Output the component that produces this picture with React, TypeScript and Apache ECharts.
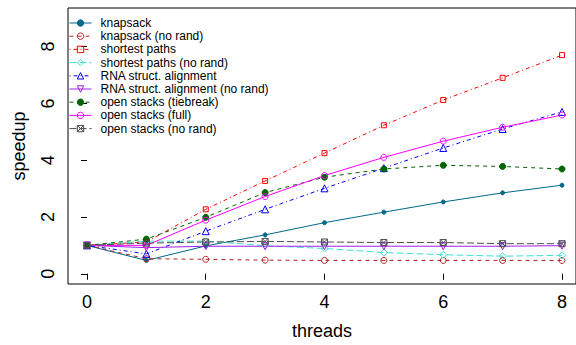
import React, { useEffect, useRef } from "react";
import * as echarts from "echarts";

const threads = [0, 1, 2, 3, 4, 5, 6, 7, 8];
const knapsack = [1.0, 0.47, 0.98, 1.37, 1.8, 2.17, 2.53, 2.85, 3.12];
const knapsackNoRand = [1.0, 0.53, 0.51, 0.48, 0.47, 0.47, 0.47, 0.47, 0.47];
const shortestPaths = [1.0, 1.12, 2.27, 3.27, 4.25, 5.23, 6.12, 6.9, 7.7];
const shortestNoRand = [1.0, 1.15, 1.15, 0.99, 0.89, 0.75, 0.67, 0.62, 0.65];
const rna = [1.0, 0.7, 1.5, 2.27, 3.01, 3.72, 4.43, 5.1, 5.7];
const rnaNoRand = [1.0, 0.92, 0.97, 0.97, 0.97, 0.97, 0.97, 0.97, 0.99];
const osTiebreak = [1.0, 1.22, 1.99, 2.86, 3.4, 3.69, 3.82, 3.78, 3.69];
const osFull = [1.0, 1.0, 1.89, 2.72, 3.46, 4.1, 4.67, 5.16, 5.59];
const osNoRand = [1.0, 1.08, 1.12, 1.14, 1.12, 1.1, 1.1, 1.06, 1.06];

const xTicks = [0, 2, 4, 6, 8];
const yTicks = [0, 2, 4, 6, 8];

const FONT = "Liberation Sans, Arial, Helvetica, sans-serif";

type Spec = {
  name: string;
  values: number[];
  color: string;
  dash: number[] | "solid";
  symbol: string;
  size: number;
  rotate?: number;
  filled?: boolean;
};

const specs: Spec[] = [
  { name: "knapsack", values: knapsack, color: "#00688B", dash: "solid", symbol: "circle", size: 4, filled: true },
  { name: "knapsack (no rand)", values: knapsackNoRand, color: "#B22222", dash: [4, 4], symbol: "circle", size: 6 },
  { name: "shortest paths", values: shortestPaths, color: "#FF0000", dash: [1, 3, 4, 3], symbol: "rect", size: 5 },
  { name: "shortest paths (no rand)", values: shortestNoRand, color: "#40E0D0", dash: [7, 3], symbol: "diamond", size: 7 },
  { name: "RNA struct. alignment", values: rna, color: "#0000FF", dash: [1, 3, 4, 3], symbol: "triangle", size: 7 },
  { name: "RNA struct. alignment (no rand)", values: rnaNoRand, color: "#A020F0", dash: "solid", symbol: "triangle", size: 7, rotate: 180 },
  { name: "open stacks (tiebreak)", values: osTiebreak, color: "#006400", dash: [4, 4], symbol: "circle", size: 6, filled: true },
  { name: "open stacks (full)", values: osFull, color: "#FF00FF", dash: "solid", symbol: "circle", size: 6 },
  { name: "open stacks (no rand)", values: osNoRand, color: "#4D4D4D", dash: [7, 3], symbol: "path://M0 0H10V10H0ZM0 0L10 10M10 0L0 10", size: 6 },
];

export default function App() {
  const ref = useRef<HTMLDivElement>(null);
  useEffect(() => {
    if (!ref.current) return;
    const chart = echarts.init(ref.current, null, { renderer: "svg" });
    const styleFor = (s: Spec) =>
      s.filled
        ? { color: s.color, borderColor: s.color, borderWidth: 1 }
        : { color: "rgba(0,0,0,0)", borderColor: s.color, borderWidth: 1 };
    const series = specs.map((s) => ({
      name: s.name,
      type: "line",
      data: threads.map((t, i) => [t, s.values[i]]),
      symbol: s.symbol,
      symbolSize: s.size,
      symbolRotate: s.rotate ?? 0,
      showAllSymbol: true,
      lineStyle: { color: s.color, width: 1, type: s.dash },
      itemStyle: styleFor(s),
      emphasis: { disabled: true },
      z: 3,
    }));
    chart.setOption({
      animation: false,
      backgroundColor: "#ffffff",
      textStyle: { fontFamily: FONT },
      grid: {
        left: 68,
        top: 8,
        width: 508,
        height: 276,
        show: true,
        borderColor: "#000",
        borderWidth: 1,
        backgroundColor: "transparent",
      },
      legend: {
        orient: "vertical",
        left: 69,
        top: 17,
        itemWidth: 22,
        itemHeight: 8,
        itemGap: 1.2,
        padding: 0,
        textStyle: { fontFamily: FONT, fontSize: 12, color: "#000", padding: [0, 0, 0, 4] },
        data: specs.map((s) => ({
          name: s.name,
          itemStyle: styleFor(s),
          lineStyle: { color: s.color, width: 1, type: s.dash },
        })),
      },
      xAxis: {
        type: "value",
        min: -0.32,
        max: 8.236,
        name: "threads",
        nameLocation: "middle",
        nameGap: 38,
        nameTextStyle: { fontFamily: FONT, fontSize: 18, color: "#000" },
        axisLine: { show: false },
        splitLine: { show: false },
        axisTick: { show: true, length: 6, lineStyle: { color: "#000" }, customValues: xTicks },
        axisLabel: { fontFamily: FONT, fontSize: 18, color: "#000", margin: 9, customValues: xTicks },
      },
      yAxis: {
        type: "value",
        min: -0.36,
        max: 9.36,
        name: "speedup",
        nameLocation: "middle",
        nameGap: 40,
        nameRotate: 90,
        nameTextStyle: { fontFamily: FONT, fontSize: 18, color: "#000" },
        axisLine: { show: false },
        splitLine: { show: false },
        axisTick: { show: true, length: 6, lineStyle: { color: "#000" }, customValues: yTicks },
        axisLabel: { fontFamily: FONT, fontSize: 18, color: "#000", margin: 11, rotate: 90, customValues: yTicks },
      },
      series,
    });
    return () => chart.dispose();
  }, []);
  return (
    <div
      ref={ref}
      style={{ position: "fixed", left: 0, top: 0, width: 576, height: 345, background: "#fff" }}
    />
  );
}
